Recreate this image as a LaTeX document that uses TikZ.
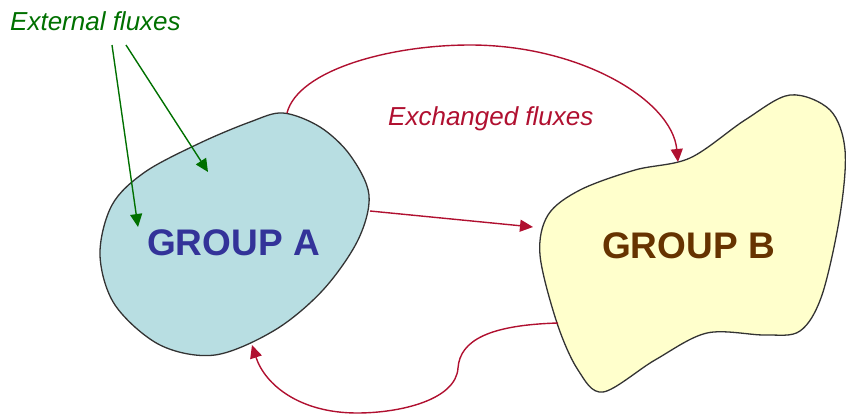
\documentclass[tikz,border=0pt]{standalone}
\usepackage{fontspec}
\setmainfont{Liberation Sans}
\usetikzlibrary{arrows.meta}
\definecolor{groupafill}{RGB}{184,222,226}
\definecolor{groupbfill}{RGB}{255,255,204}
\definecolor{groupatext}{RGB}{51,51,153}
\definecolor{groupbtext}{RGB}{102,51,0}
\definecolor{exchred}{RGB}{176,16,48}
\definecolor{extgreen}{RGB}{0,112,0}
\tikzstyle{blob}=[draw=black!80,line width=1.3pt]
\tikzstyle{fluxhead}=[>/.tip={Triangle[length=13pt,width=12pt]}]
\tikzstyle{ext} =[line width=1.4pt,extgreen,fluxhead,->]
\tikzstyle{exch}=[line width=1.4pt,exchred,fluxhead,->]
\tikzstyle{grp}=[anchor=base west,inner sep=0pt,font=\fontsize{37}{37}\selectfont\bfseries]
\tikzstyle{lbl}=[anchor=base west,inner sep=0pt,font=\fontsize{26}{26}\selectfont\itshape]

\begin{document}
\begin{tikzpicture}[x=1pt,y=-1pt]
	\useasboundingbox (0,0) rectangle (846,415);
	% the two groups
	\draw[blob,fill=groupafill] plot[smooth cycle,tension=0.55] coordinates
		{(283,113) (320,127) (350,155) (369,195) (358,240) (323,290) (275,330) (215,355) (160,345) (115,305) (100,255) (112,205) (145,172) (200,143) (250,122)};
	\draw[blob,fill=groupbfill] plot[smooth cycle,tension=0.55] coordinates
		{(790,95) (830,110) (845,150) (840,215) (822,295) (800,331) (765,335) (707,333) (655,360) (603,392) (578,370) (557,323) (540,255) (548,215) (580,190) (635,170) (690,158) (745,120)};
	\node[grp,text=groupatext] (ga) at (147,255) {GROUP A};
	\node[grp,text=groupbtext] (gb) at (602,258) {GROUP B};
	% labels
	\node[lbl,text=extgreen] (ext) at (10,30) {External fluxes};
	\node[lbl,text=exchred]  (exl) at (388,125) {Exchanged fluxes};
	% end points
	\coordinate (e1) at (112,45);
	\coordinate (e2) at (126,45);
	\coordinate (a1) at (138,227);
	\coordinate (a2) at (208,172);
	\coordinate (atop) at (287,113);
	\coordinate (aright) at (370,211);
	\coordinate (abot) at (252,345);
	\coordinate (btop) at (678,162);
	\coordinate (bleft) at (533,227);
	\coordinate (bbot) at (558,323);
	% fluxes
	\draw[ext] (e1) -- (a1);
	\draw[ext] (e2) -- (a2);
	\draw[exch] (atop) .. controls (298,70) and (390,45) .. (470,45)
		.. controls (580,45) and (672,100) .. (btop);
	\draw[exch] (aright) -- (bleft);
	\draw[exch] (bbot) .. controls (490,325) and (460,340) .. (458,368)
		.. controls (456,400) and (400,413) .. (357,413)
		.. controls (300,413) and (265,385) .. (abot);
\end{tikzpicture}
\end{document}
